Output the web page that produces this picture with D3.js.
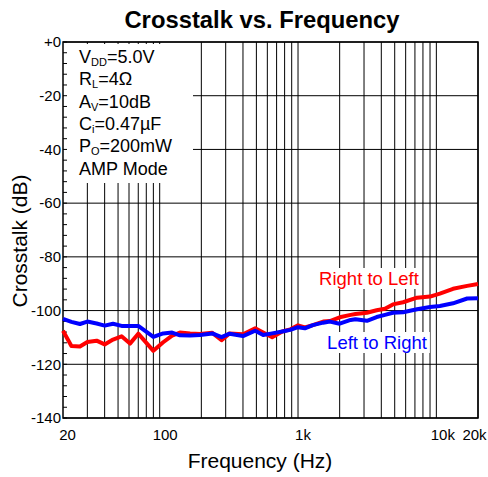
<!DOCTYPE html>
<html lang="en">
<head>
    <meta charset="UTF-8" />
    <title>Crosstalk vs. Frequency</title>
    <script src="https://d3js.org/d3.v7.min.js"></script>
    <style>
        body { margin: 0; background: #fff; }
        svg text { font-family: Arial, "Liberation Sans", sans-serif; fill: #000; }
        .grid line { stroke: #000; stroke-width: 1; }
    </style>
</head>
<body>
    <svg id="chart" width="488" height="477"></svg>
    <script>
        // frequency points (Hz)
        const freqs = [20, 23, 26.5, 30, 35, 40, 46, 53, 61, 70, 90, 106, 123, 140, 166, 196,
            240, 280, 320, 400, 490, 560, 650, 770, 880, 1000, 1120, 1280, 1520, 1700,
            2000, 2400, 2600, 3150, 3700, 4250, 4850, 5750, 7250, 9000, 10600, 13200, 16700, 20000];

        // Right to Left crosstalk (dB)
        const rightToLeft = [-107.5, -113.2, -113.4, -111.7, -111.2, -112.6, -110.8, -109.6, -112.3, -108.6,
            -115, -111.8, -109.3, -108.2, -108.5, -108.7, -108.3, -111, -108.5, -108.8,
            -106.6, -108.2, -109.9, -107.8, -107, -105.5, -106.3, -105.4, -104.1, -103.9,
            -102.5, -101.6, -101.3, -100.8, -99.9, -99.3, -97.7, -96.9, -95.2, -94.8,
            -93.7, -91.9, -90.8, -90.1];

        // Left to Right crosstalk (dB)
        const leftToRight = [-103.1, -104.2, -105, -104.1, -104.8, -105.6, -104.9, -105.7, -105.7, -105.7,
            -109.8, -108.5, -108.2, -109.2, -109.3, -109.1, -108.5, -109.9, -108.6, -109.5,
            -107.5, -109.1, -108.5, -107.8, -107.2, -106.2, -106.6, -105.4, -104.5, -104.1,
            -104.9, -103.5, -103.2, -103.8, -102.4, -101.6, -100.8, -100.6, -99.5, -98.7,
            -98.3, -97.3, -95.5, -95.4];

        const xTickValues = [20, 100, 1000, 10000, 20000];
        const xTickLabels = ["20", "100", "1k", "10k", "20k"];
        const yTickValues = [0, -20, -40, -60, -80, -100, -120, -140];
        const yTickLabels = ["+0", "-20", "-40", "-60", "-80", "-100", "-120", "-140"];

        const conditions = [
            { main: "V", sub: "DD", rest: "=5.0V" },
            { main: "R", sub: "L", rest: "=4\u03A9" },
            { main: "A", sub: "V", rest: "=10dB" },
            { main: "C", sub: "i", rest: "=0.47\u00B5F" },
            { main: "P", sub: "O", rest: "=200mW" },
            { main: "AMP Mode", sub: "", rest: "" }
        ];

        const svg = d3.select("svg#chart");
        const margins = { top: 42, right: 10, bottom: 59, left: 63 };
        const chartWidth = 488 - margins.left - margins.right;
        const chartHeight = 477 - margins.top - margins.bottom;

        const xScale = d3.scaleLog().domain([20, 20000]).range([0, chartWidth]);
        const yScale = d3.scaleLinear().domain([-140, 0]).range([chartHeight, 0]);

        const chartArea = svg.append("g")
            .attr("transform", `translate(${margins.left},${margins.top})`);

        // vertical gridlines at every 1-2-3...9 step
        const vLines = [];
        [10, 100, 1000, 10000].forEach(dec => {
            for (let m = 1; m <= 9; m++) {
                const f = dec * m;
                if (f > 20 && f <= 20000) vLines.push(f);
            }
        });

        const grid = chartArea.append("g").attr("class", "grid");
        grid.selectAll("line.v")
            .data(vLines)
            .join("line")
            .attr("class", "v")
            .attr("x1", d => xScale(d)).attr("x2", d => xScale(d))
            .attr("y1", 0).attr("y2", chartHeight);

        grid.selectAll("line.h")
            .data(yTickValues)
            .join("line")
            .attr("class", "h")
            .attr("x1", 0).attr("x2", chartWidth)
            .attr("y1", d => yScale(d)).attr("y2", d => yScale(d));

        // white background behind the conditions text
        chartArea.append("rect")
            .attr("x", 1).attr("y", 2)
            .attr("width", 129).attr("height", 139)
            .attr("fill", "#fff");

        // left axis with minor ticks
        const leftAxis = d3.axisLeft(yScale)
            .tickValues(yTickValues)
            .tickSize(0)
            .tickPadding(2)
            .tickFormat((d, i) => yTickLabels[i]);

        chartArea.append("g")
            .attr("class", "y axis")
            .call(leftAxis)
            .call(g => g.select(".domain").remove())
            .selectAll("text")
            .style("font-size", "15px")
            .attr("font-family", null);

        const minorTicks = d3.range(-140, 1, 4);
        chartArea.append("g").selectAll("line")
            .data(minorTicks)
            .join("line")
            .attr("x1", 0).attr("x2", 4)
            .attr("y1", d => yScale(d)).attr("y2", d => yScale(d))
            .attr("stroke", "#000");

        // bottom axis labels
        const xLabelShift = [4, 5, 4.5, 6, -4];
        const bottomAxis = d3.axisBottom(xScale)
            .tickValues(xTickValues)
            .tickSize(0)
            .tickPadding(11)
            .tickFormat((d, i) => xTickLabels[i]);

        chartArea.append("g")
            .attr("class", "x axis")
            .attr("transform", `translate(0,${chartHeight})`)
            .call(bottomAxis)
            .call(g => g.select(".domain").remove())
            .selectAll("text")
            .style("font-size", "15px")
            .attr("font-family", null)
            .attr("dx", (d, i) => xLabelShift[i]);

        // frame
        chartArea.append("rect")
            .attr("x", 0).attr("y", 0)
            .attr("width", chartWidth).attr("height", chartHeight)
            .attr("fill", "none")
            .attr("stroke", "#000")
            .attr("stroke-width", 1.5);

        // curves
        const lineGen = d3.line()
            .x((d, i) => xScale(freqs[i]))
            .y(d => yScale(d));

        chartArea.append("path")
            .datum(rightToLeft)
            .attr("fill", "none")
            .attr("stroke", "#ff0000")
            .attr("stroke-width", 4)
            .attr("stroke-linejoin", "round")
            .attr("d", lineGen);

        chartArea.append("path")
            .datum(leftToRight)
            .attr("fill", "none")
            .attr("stroke", "#0000ff")
            .attr("stroke-width", 4)
            .attr("stroke-linejoin", "round")
            .attr("d", lineGen);

        // series labels with white background
        const seriesLabels = [
            { text: "Right to Left", color: "#ff0000", x: 369 - margins.left, y: 285 - margins.top },
            { text: "Left to Right", color: "#0000ff", x: 377 - margins.left, y: 349 - margins.top }
        ];
        seriesLabels.forEach(s => {
            const t = chartArea.append("text")
                .attr("x", s.x).attr("y", s.y)
                .attr("text-anchor", "middle")
                .style("font-size", "18.5px")
                .style("fill", s.color)
                .text(s.text);
            const bb = t.node().getBBox();
            chartArea.insert("rect", "path")
                .attr("x", bb.x - 3).attr("y", bb.y)
                .attr("width", bb.width + 6).attr("height", bb.height)
                .attr("fill", "#fff");
        });

        // conditions text
        const cond = chartArea.append("g").attr("transform", "translate(16,0)");
        conditions.forEach((c, i) => {
            const t = cond.append("text")
                .attr("y", 21 + i * 22.3)
                .style("font-size", "18px");
            t.append("tspan").text(c.main);
            if (c.sub) {
                t.append("tspan").attr("dy", 3).style("font-size", "11px").text(c.sub);
                t.append("tspan").attr("dy", -3).text(c.rest);
            }
        });

        // titles
        svg.append("text")
            .attr("x", 262).attr("y", 28)
            .attr("text-anchor", "middle")
            .style("font-size", "23.8px")
            .style("font-weight", "bold")
            .text("Crosstalk vs. Frequency");

        svg.append("text")
            .attr("x", 260).attr("y", 468)
            .attr("text-anchor", "middle")
            .style("font-size", "21px")
            .text("Frequency (Hz)");

        svg.append("text")
            .attr("transform", "translate(27,241) rotate(-90)")
            .attr("text-anchor", "middle")
            .style("font-size", "21px")
            .text("Crosstalk (dB)");
    </script>
</body>
</html>
